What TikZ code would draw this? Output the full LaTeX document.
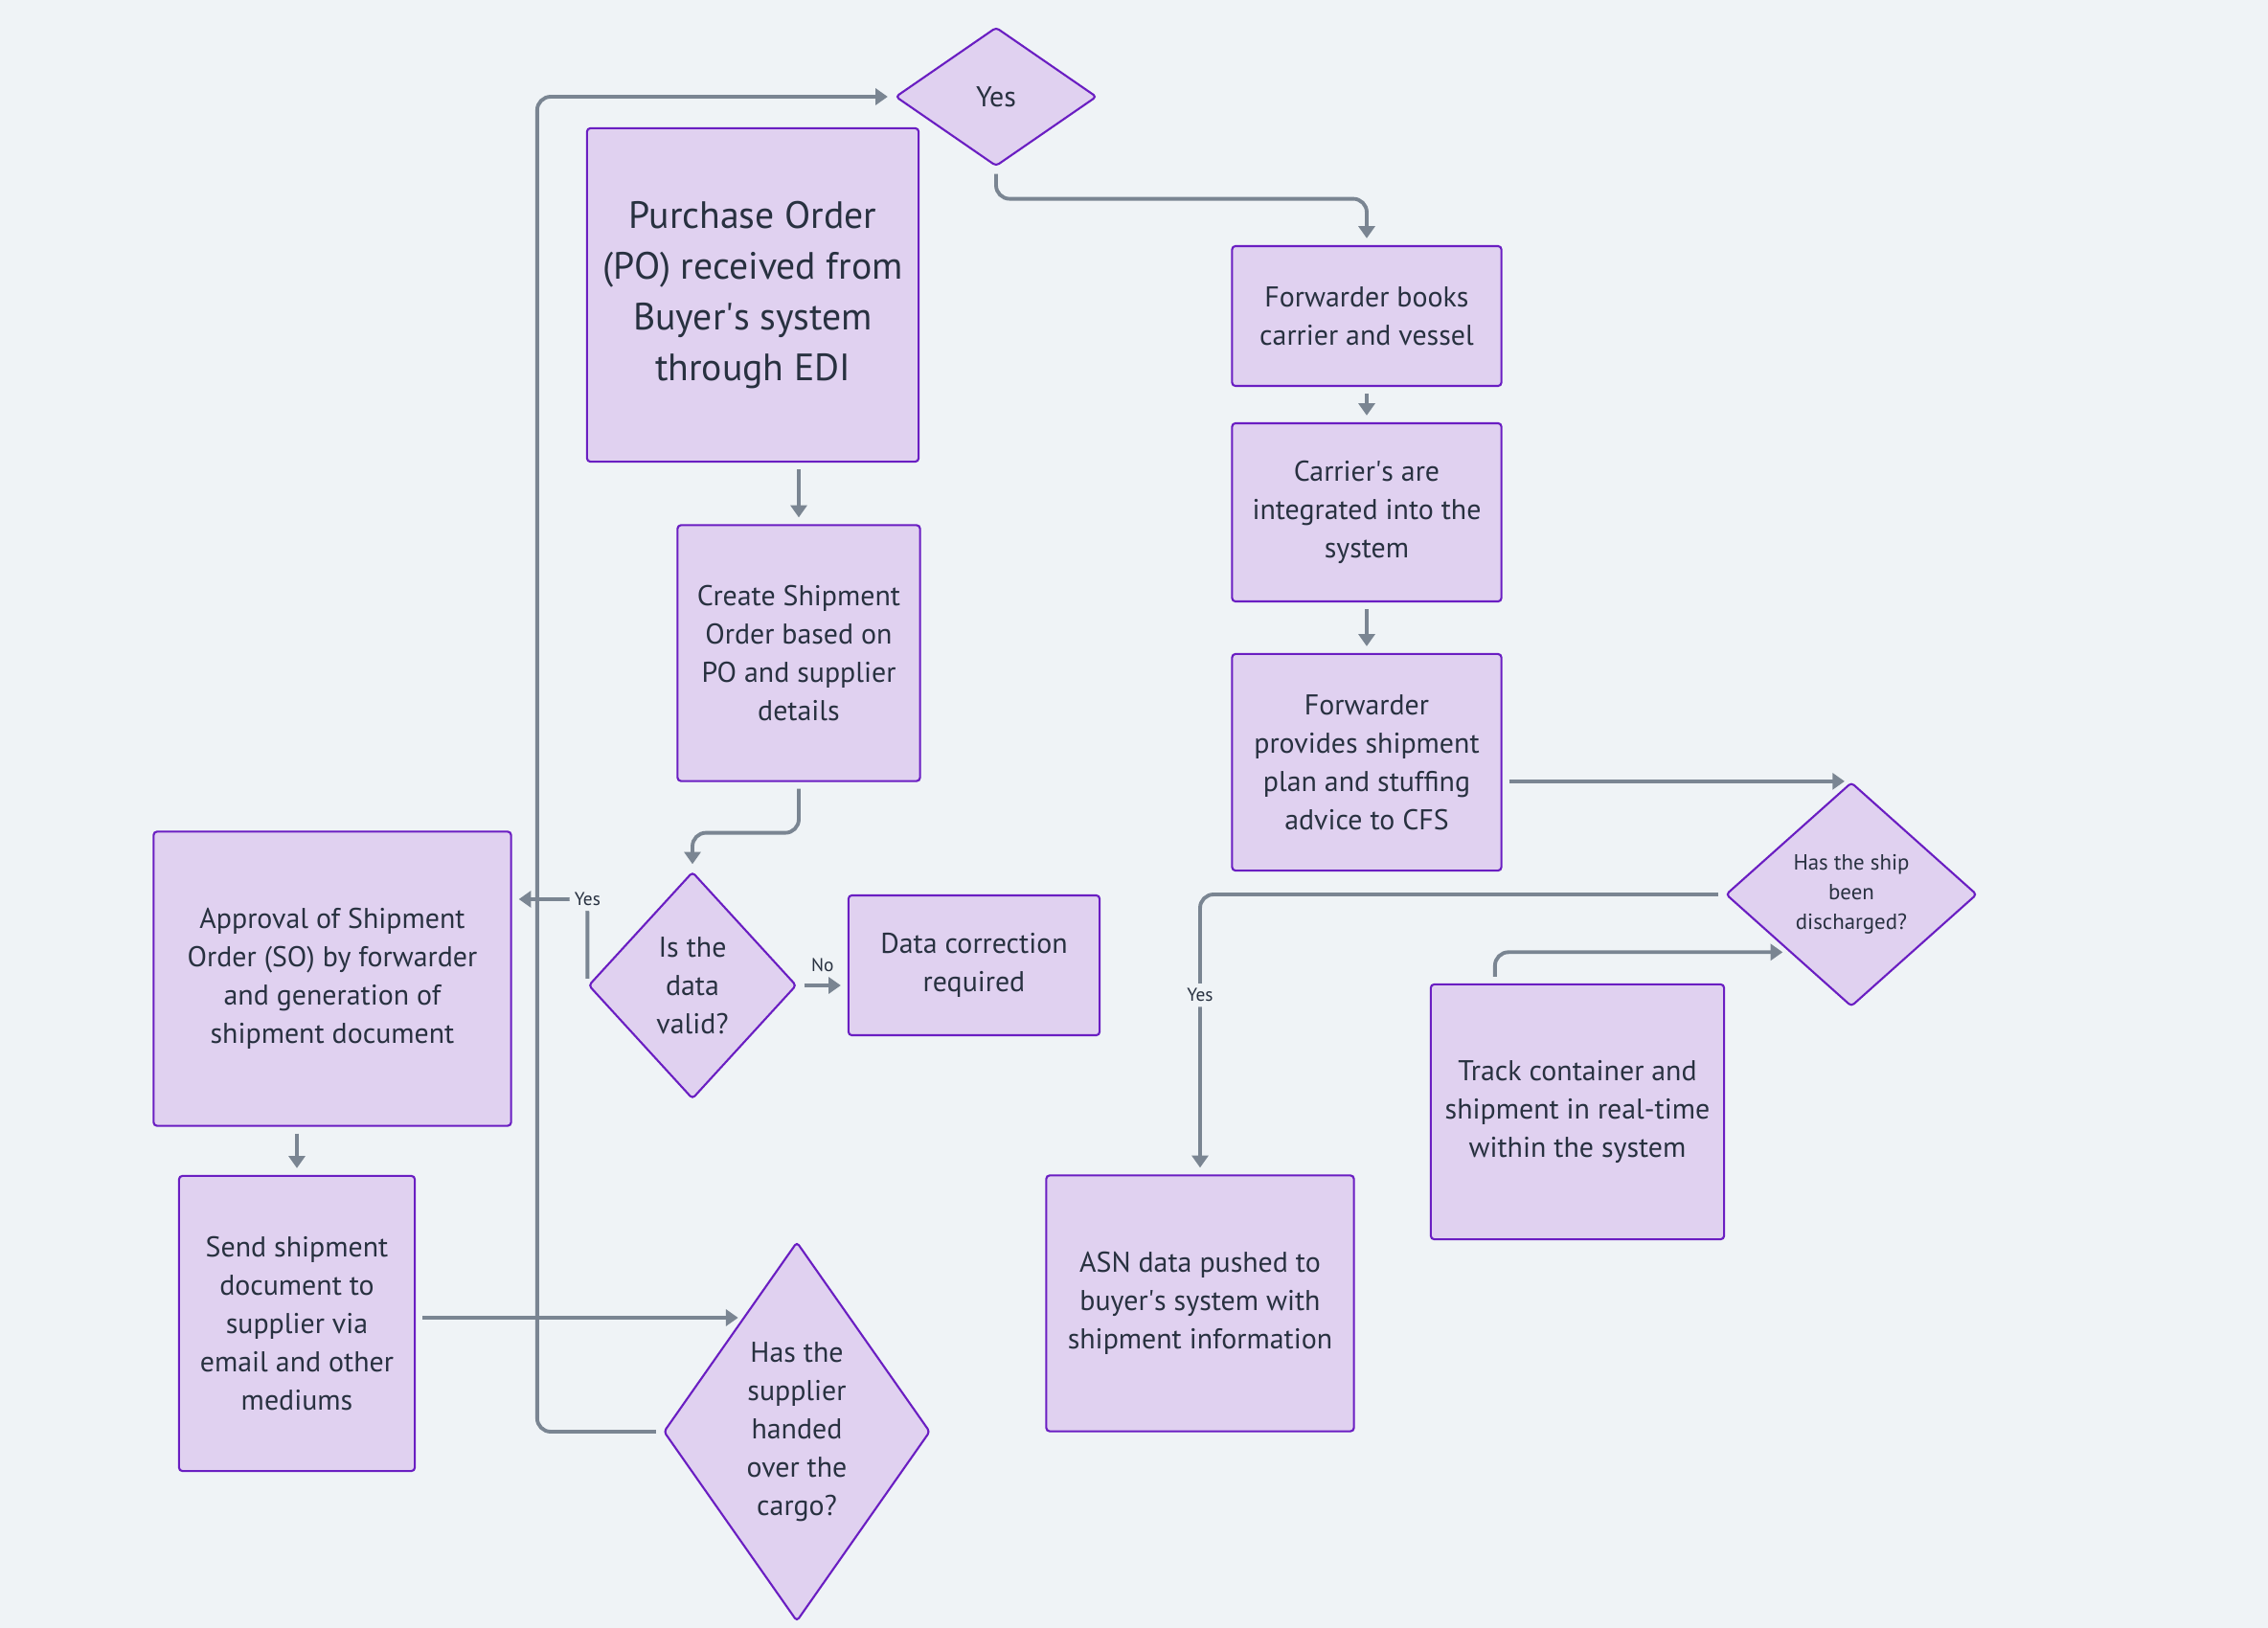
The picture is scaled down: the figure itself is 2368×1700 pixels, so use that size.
\documentclass[tikz,border=0pt]{standalone}
\usepackage{fontspec}
\setmainfont{PT Sans}
\usepackage{xcolor}
\usetikzlibrary{shapes,arrows,positioning,calc,arrows.meta}
\definecolor{bg}{HTML}{EFF3F6}
\definecolor{boxfill}{HTML}{E0D1F0}
\definecolor{edge}{HTML}{6A1EC2}
\definecolor{wire}{HTML}{7A8592}
\definecolor{ink}{HTML}{283140}

\begin{document}
\begin{tikzpicture}[x=0.01cm, y=0.01cm,
    block/.style={draw=edge, fill=boxfill, line width=0.6pt, rounded corners=1pt, align=center, text=ink, inner sep=0pt, font=\fontsize{8.5}{11.4}\selectfont},
    decision/.style={block, diamond},
    flow/.style={draw=wire, line width=1.1pt, -{Triangle[length=3.6pt,width=4.8pt]}, shorten >=2pt, shorten <=2pt, rounded corners=4pt},
    lbl/.style={font=\fontsize{5.5}{6}\selectfont, text=ink, fill=bg, inner sep=1.5pt}]
    \fill[bg] (0,0) rectangle (2368,-1700);
    \useasboundingbox (0,0) rectangle (2368,-1700);

    % left column
    \node[decision, minimum width=2.10cm, minimum height=1.45cm] (yesd) at (1040,-101) {Yes};
    \node[block, minimum width=3.46cm, minimum height=3.48cm, font=\fontsize{11.3}{15}\selectfont] (po) at (786,-308) {Purchase Order\\(PO) received from\\Buyer\textquotesingle s system\\through EDI};
    \node[block, minimum width=2.53cm, minimum height=2.67cm] (cso) at (834,-682) {Create Shipment\\Order based on\\PO and supplier\\details};
    \node[decision, minimum width=2.17cm, minimum height=2.37cm] (valid) at (723,-1029) {Is the\\data\\valid?};
    \node[block, minimum width=2.62cm, minimum height=1.46cm] (fix) at (1017,-1008) {Data correction\\required};
    \node[block, minimum width=3.73cm, minimum height=3.07cm] (approve) at (347,-1022) {Approval of Shipment\\Order (SO) by forwarder\\and generation of\\shipment document};
    \node[block, minimum width=2.46cm, minimum height=3.08cm] (send) at (310,-1382) {Send shipment\\document to\\supplier via\\email and other\\mediums};
    \node[decision, shape aspect=0.7, minimum width=2.78cm, minimum height=3.96cm] (cargo) at (832,-1495) {Has the\\supplier\\handed\\over the\\cargo?};

    % right column
    \node[block, minimum width=2.81cm, minimum height=1.46cm] (book) at (1427,-330) {Forwarder books\\carrier and vessel};
    \node[block, minimum width=2.81cm, minimum height=1.86cm] (carrier) at (1427,-535) {Carrier\textquotesingle s are\\integrated into the\\system};
    \node[block, minimum width=2.81cm, minimum height=2.26cm] (plan) at (1427,-796) {Forwarder\\provides shipment\\plan and stuffing\\advice to CFS};
    \node[decision, minimum width=2.62cm, minimum height=2.34cm, font=\fontsize{6.5}{8.8}\selectfont] (ship) at (1933,-934) {Has the ship\\been\\discharged?};
    \node[block, minimum width=3.06cm, minimum height=2.66cm] (track) at (1647,-1161) {Track container and\\shipment in real-time\\within the system};
    \node[block, minimum width=3.21cm, minimum height=2.67cm] (asn) at (1253,-1361) {ASN data pushed to\\buyer\textquotesingle s system with\\shipment information};

    \draw[flow] (po.south -| cso.north) -- (cso.north);
    \draw[flow] (cso.south) -- ++(0,-53) -| (valid.north);
    \draw[flow] (valid.east) -- node[lbl, above=2pt, fill=none] {No} (valid.east -| fix.west);
    \draw[flow] (valid.west) |- node[lbl] {Yes} ([yshift=0.83cm]approve.east);
    \draw[flow] (approve.south -| send.north) -- (send.north);
    \draw[flow] ([yshift=0.06cm]send.east) -- ($(cargo.114 |- send.east)+(0,6)$);
    \draw[flow] (cargo.west) -- ++(-131,0) |- (yesd.west);
    \draw[flow] (yesd.south) -- ++(0,-33) -| (book.north);
    \draw[flow] (book) -- (carrier);
    \draw[flow] (carrier) -- (plan);
    \draw[flow] (plan.east |- ship.north) -- (ship.north);
    \draw[flow] (ship.west) -| node[lbl, pos=0.68] {Yes} (asn.north);
    \draw[flow] ([xshift=0.68cm]track.north west) |- (ship.223);
\end{tikzpicture}
\end{document}
